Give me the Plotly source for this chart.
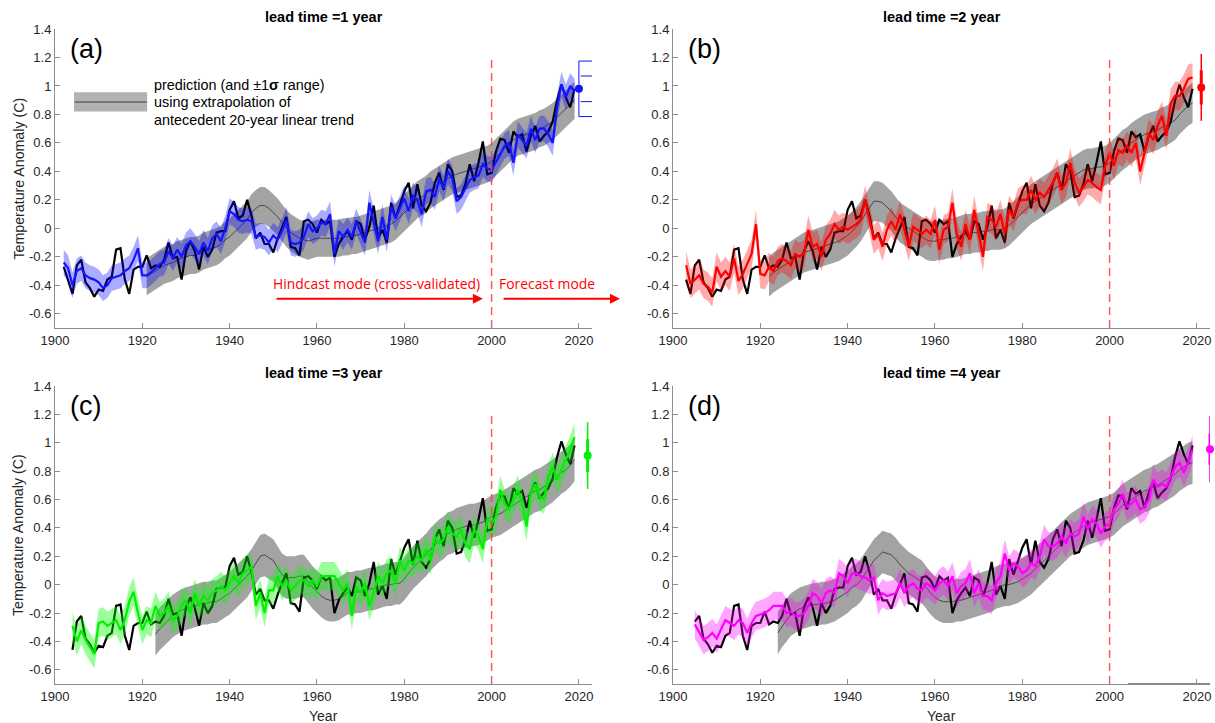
import plotly.graph_objects as go

# ---------------- data ----------------
obs_start = 1902
obs_vals = [
    -0.27, -0.36, -0.46, -0.26, -0.22, -0.38, -0.42, -0.48, -0.43, -0.44,
    -0.36, -0.34, -0.15, -0.14, -0.36, -0.46, -0.29, -0.27, -0.27, -0.19,
    -0.28, -0.26, -0.27, -0.22, -0.10, -0.21, -0.20, -0.36, -0.16, -0.09,
    -0.16, -0.29, -0.13, -0.20, -0.15, -0.03, -0.02, -0.02, 0.13, 0.19,
    0.07, 0.09, 0.20, 0.09, -0.07, -0.03, -0.11, -0.11, -0.17, -0.07,
    0.01, 0.08, -0.13, -0.14, -0.19, 0.05, 0.06, 0.03, -0.03, 0.06,
    0.03, 0.05, -0.20, -0.11, -0.06, -0.02, -0.08, 0.05, 0.03, -0.08,
    0.01, 0.16, -0.07, -0.01, -0.10, 0.18, 0.07, 0.16, 0.26, 0.32,
    0.14, 0.31, 0.16, 0.12, 0.18, 0.32, 0.39, 0.27, 0.45, 0.40,
    0.22, 0.23, 0.31, 0.45, 0.33, 0.46, 0.61, 0.38, 0.39, 0.54,
    0.63, 0.62, 0.53, 0.68, 0.64, 0.66, 0.54, 0.65, 0.72, 0.61,
    0.65, 0.68, 0.75, 0.90, 1.01, 0.92, 0.85, 0.98,
]

lead_times = [1, 2, 3, 4]
obs_first_year = [1902, 1903, 1904, 1905]

# model (coloured) predictions, start years 1902..1905
model_a = [
    -0.24, -0.28, -0.40, -0.30, -0.28, -0.33, -0.35, -0.36, -0.38, -0.42,
    -0.40, -0.35, -0.34, -0.33, -0.30, -0.28, -0.22, -0.14, -0.33, -0.33,
    -0.31, -0.28, -0.25, -0.24, -0.16, -0.21, -0.15, -0.20, -0.12, -0.09,
    -0.13, -0.18, -0.10, -0.16, -0.07, -0.04, -0.09, 0.00, 0.12, 0.10,
    0.06, 0.05, 0.06, 0.05, -0.06, -0.05, -0.06, -0.10, -0.05, -0.08,
    -0.02, 0.06, -0.10, -0.11, -0.10, -0.06, 0.03, -0.02, 0.00, 0.04,
    0.03, 0.10, -0.18, -0.02, -0.06, -0.01, -0.06, 0.05, -0.02, -0.10,
    0.18, 0.05, -0.09, 0.08, -0.08, 0.15, 0.07, 0.14, 0.21, 0.12,
    0.23, 0.20, 0.10, 0.26, 0.27, 0.22, 0.35, 0.28, 0.40, 0.35,
    0.19, 0.22, 0.28, 0.34, 0.36, 0.37, 0.45, 0.42, 0.41, 0.46,
    0.52, 0.58, 0.60, 0.46, 0.66, 0.62, 0.58, 0.70, 0.62, 0.70,
    0.70, 0.66, 0.60, 0.85, 1.01, 0.92, 1.00, 0.96,
]
model_b = [
    -0.26, -0.39, -0.36, -0.33, -0.39, -0.41, -0.45, -0.27, -0.34, -0.30,
    -0.34, -0.21, -0.37, -0.32, -0.25, -0.18, 0.03, -0.32, -0.33, -0.27,
    -0.30, -0.23, -0.21, -0.23, -0.26, -0.18, -0.20, -0.18, -0.01, -0.13,
    -0.11, -0.20, -0.08, -0.04, 0.03, -0.01, 0.01, -0.01, 0.01, 0.03,
    0.06, 0.20, 0.06, -0.08, -0.04, -0.13, -0.01, 0.05, -0.01, 0.10,
    -0.01, -0.13, 0.01, -0.01, -0.04, -0.01, -0.04, 0.06, -0.15, -0.01,
    0.01, 0.18, -0.04, -0.13, 0.03, -0.08, 0.13, -0.04, -0.20, 0.08,
    0.06, 0.01, 0.10, -0.04, 0.13, 0.08, 0.18, 0.20, 0.20, 0.27,
    0.20, 0.25, 0.22, 0.27, 0.32, 0.39, 0.27, 0.32, 0.46, 0.32,
    0.25, 0.29, 0.34, 0.32, 0.29, 0.27, 0.44, 0.53, 0.44, 0.55,
    0.53, 0.58, 0.53, 0.60, 0.40, 0.53, 0.67, 0.62, 0.72, 0.79,
    0.65, 0.88, 0.93, 0.93, 0.98, 1.05, 1.06,
]
model_c = [
    -0.29, -0.40, -0.32, -0.39, -0.44, -0.49, -0.27, -0.26, -0.29, -0.27,
    -0.25, -0.32, -0.25, -0.12, -0.05, -0.20, -0.32, -0.25, -0.27, -0.15,
    -0.22, -0.20, -0.15, -0.25, -0.22, -0.15, -0.11, -0.20, -0.06, -0.15,
    -0.08, -0.11, -0.06, -0.04, -0.01, -0.04, 0.01, 0.06, 0.01, 0.08,
    0.10, 0.13, -0.15, -0.06, -0.20, -0.04, -0.04, 0.06, -0.01, 0.03,
    -0.04, -0.01, 0.03, 0.03, -0.01, 0.03, -0.01, 0.06, 0.06, 0.06,
    0.06, 0.01, -0.04, 0.01, -0.22, -0.01, -0.06, 0.01, -0.15, -0.06,
    0.06, 0.01, 0.08, 0.10, 0.01, 0.17, 0.10, 0.17, 0.15, 0.20,
    0.17, 0.25, 0.17, 0.34, 0.29, 0.32, 0.41, 0.36, 0.34, 0.39,
    0.29, 0.25, 0.39, 0.34, 0.25, 0.46, 0.43, 0.48, 0.67, 0.57,
    0.53, 0.60, 0.67, 0.57, 0.41, 0.65, 0.71, 0.62, 0.60, 0.76,
    0.83, 0.74, 0.81, 0.88, 0.95, 1.04,
]
model_d = [
    -0.28, -0.34, -0.39, -0.37, -0.34, -0.38, -0.32, -0.25, -0.27, -0.29,
    -0.25, -0.27, -0.34, -0.27, -0.22, -0.21, -0.20, -0.18, -0.15, -0.15,
    -0.15, -0.20, -0.19, -0.22, -0.22, -0.20, -0.15, -0.06, -0.08, -0.13,
    -0.06, -0.04, -0.06, 0.08, 0.06, 0.01, 0.08, 0.08, 0.06, 0.05,
    0.03, 0.05, -0.11, -0.06, -0.08, -0.07, -0.06, 0.01, -0.06, -0.01,
    0.01, -0.03, -0.04, 0.01, -0.01, -0.04, 0.01, 0.03, -0.01, 0.06,
    -0.06, -0.01, 0.01, 0.08, -0.06, 0.01, -0.08, -0.08, -0.11, 0.01,
    0.06, 0.22, 0.10, 0.15, 0.13, 0.08, 0.10, 0.15, 0.13, 0.20,
    0.32, 0.27, 0.27, 0.29, 0.34, 0.29, 0.36, 0.34, 0.36, 0.48,
    0.39, 0.46, 0.43, 0.36, 0.41, 0.43, 0.53, 0.57, 0.64, 0.55,
    0.57, 0.60, 0.53, 0.55, 0.60, 0.74, 0.69, 0.71, 0.69, 0.76,
    0.83, 0.86, 0.79, 0.86, 0.95,
]
model_vals = [model_a, model_b, model_c, model_d]
model_sigma = [0.09, 0.10, 0.10, 0.10]

# trend-extrapolation prediction (grey), start years 1921..1924
trend_first_year = [1921, 1922, 1923, 1924]
trend_a = [
    -0.34, -0.32, -0.30, -0.28, -0.26, -0.25, -0.24, -0.22, -0.21, -0.20,
    -0.19, -0.19, -0.18, -0.16, -0.15, -0.14, -0.13, -0.11, -0.08, -0.06,
    -0.03, 0.00, 0.03, 0.06, 0.11, 0.14, 0.16, 0.16, 0.14, 0.11,
    0.08, 0.04, 0.00, -0.03, -0.05, -0.07, -0.08, -0.09, -0.08, -0.07,
    -0.07, -0.07, -0.07, -0.07, -0.07, -0.06, -0.06, -0.05, -0.05, -0.04,
    -0.03, -0.02, -0.01, 0.00, 0.01, 0.02, 0.03, 0.05, 0.08, 0.11,
    0.14, 0.17, 0.20, 0.22, 0.24, 0.27, 0.29, 0.31, 0.33, 0.35,
    0.37, 0.38, 0.39, 0.40, 0.41, 0.42, 0.43, 0.44, 0.45, 0.47,
    0.50, 0.53, 0.56, 0.59, 0.62, 0.64, 0.65, 0.66, 0.67, 0.68,
    0.70, 0.71, 0.73, 0.75, 0.78, 0.81, 0.84, 0.87, 0.90,
]
trend_b = [
    -0.34, -0.31, -0.29, -0.27, -0.25, -0.23, -0.21, -0.19, -0.17, -0.16,
    -0.15, -0.14, -0.13, -0.12, -0.11, -0.10, -0.09, -0.07, -0.05, -0.02,
    0.01, 0.05, 0.10, 0.15, 0.19, 0.19, 0.18, 0.15, 0.12, 0.08,
    0.04, 0.02, 0.00, -0.02, -0.04, -0.06, -0.08, -0.09, -0.09, -0.08,
    -0.08, -0.07, -0.07, -0.06, -0.05, -0.04, -0.04, -0.03, -0.03, -0.02,
    -0.02, -0.01, -0.01, -0.01, 0.00, 0.02, 0.05, 0.08, 0.11, 0.14,
    0.17, 0.19, 0.21, 0.23, 0.25, 0.27, 0.29, 0.31, 0.33, 0.35,
    0.37, 0.39, 0.41, 0.42, 0.42, 0.43, 0.43, 0.44, 0.46, 0.49,
    0.52, 0.55, 0.57, 0.60, 0.62, 0.64, 0.66, 0.67, 0.68, 0.69,
    0.71, 0.72, 0.74, 0.76, 0.80, 0.83, 0.86, 0.88,
]
trend_c = [
    -0.35, -0.31, -0.28, -0.25, -0.22, -0.20, -0.18, -0.17, -0.16, -0.15,
    -0.14, -0.13, -0.13, -0.12, -0.12, -0.10, -0.08, -0.06, -0.03, 0.00,
    0.03, 0.06, 0.10, 0.15, 0.20, 0.21, 0.19, 0.17, 0.12, 0.07,
    0.05, 0.05, 0.05, 0.06, 0.06, 0.02, -0.02, -0.05, -0.08, -0.10,
    -0.11, -0.11, -0.10, -0.08, -0.06, -0.06, -0.05, -0.05, -0.04, -0.03,
    -0.03, -0.02, -0.01, 0.00, 0.00, 0.01, 0.01, 0.04, 0.08, 0.12,
    0.15, 0.18, 0.21, 0.25, 0.28, 0.31, 0.33, 0.36, 0.37, 0.39,
    0.40, 0.41, 0.42, 0.42, 0.43, 0.44, 0.46, 0.48, 0.49, 0.50,
    0.52, 0.54, 0.56, 0.58, 0.60, 0.62, 0.64, 0.66, 0.67, 0.69,
    0.71, 0.73, 0.76, 0.79, 0.81, 0.84, 0.88,
]
trend_d = [
    -0.34, -0.29, -0.25, -0.21, -0.19, -0.17, -0.16, -0.15, -0.14, -0.14,
    -0.13, -0.13, -0.12, -0.11, -0.09, -0.07, -0.05, -0.02, 0.00, 0.03,
    0.08, 0.13, 0.17, 0.20, 0.23, 0.22, 0.21, 0.18, 0.14, 0.11,
    0.08, 0.06, 0.04, 0.02, -0.02, -0.06, -0.09, -0.11, -0.12, -0.12,
    -0.12, -0.11, -0.11, -0.10, -0.09, -0.08, -0.07, -0.06, -0.05, -0.04,
    -0.02, -0.01, 0.00, 0.00, 0.01, 0.02, 0.04, 0.06, 0.08, 0.11,
    0.14, 0.17, 0.20, 0.23, 0.26, 0.29, 0.32, 0.35, 0.37, 0.39,
    0.41, 0.43, 0.44, 0.45, 0.46, 0.47, 0.48, 0.50, 0.53, 0.56,
    0.58, 0.60, 0.62, 0.64, 0.66, 0.67, 0.69, 0.70, 0.72, 0.74,
    0.76, 0.78, 0.81, 0.83, 0.85, 0.86,
]
trend_vals = [trend_a, trend_b, trend_c, trend_d]
trend_sigma = [0.13, 0.14, 0.15, 0.15]

# forecast points with 1 and 2 sigma
fc_year = [2020, 2021, 2022, 2023]
fc_val = [0.98, 0.99, 0.91, 0.955]
fc_sig1 = [0.09, 0.12, 0.115, 0.11]
fc_sig2 = [0.195, 0.235, 0.235, 0.235]

panel_letters = ['(a)', '(b)', '(c)', '(d)']
panel_titles = ['lead time =1 year', 'lead time =2 year', 'lead time =3 year', 'lead time =4 year']
line_colors = ['rgb(20,20,255)', 'rgb(255,0,0)', 'rgb(0,240,0)', 'rgb(255,0,255)']
band_colors = ['rgba(0,0,255,0.33)', 'rgba(255,0,0,0.33)', 'rgba(0,255,0,0.40)', 'rgba(255,0,255,0.35)']

x_ticks = [1900, 1920, 1940, 1960, 1980, 2000, 2020]
y_ticks = [-0.6, -0.4, -0.2, 0, 0.2, 0.4, 0.6, 0.8, 1, 1.2, 1.4]
y_ticklabels = ['-0.6', '-0.4', '-0.2', '0', '0.2', '0.4', '0.6', '0.8', '1', '1.2', '1.4']
split_year = 2000

# ---------------- layout geometry ----------------
W, H = 1215, 723
x_doms = [(55 / W, 592 / W), (673 / W, 1210 / W)]
y_doms = [((H - 328) / H, (H - 29) / H), ((H - 684) / H, (H - 386) / H)]
FONT = 'Liberation Sans, Arial, Helvetica, sans-serif'
AXC = '#8c8c8c'

fig = go.Figure()
layout = dict(width=W, height=H, margin=dict(l=0, r=0, t=0, b=0, pad=0, autoexpand=False),
              paper_bgcolor='white', plot_bgcolor='white', showlegend=False,
              font=dict(family=FONT, color='#262626'))
annotations = []
shapes = []


def band(xs, center, sig):
    up = [c + sig for c in center]
    lo = [c - sig for c in center]
    return xs + xs[::-1], up + lo[::-1]


for i in range(4):
    n = '' if i == 0 else str(i + 1)
    xa, ya = 'x' + n, 'y' + n
    row, col = i // 2, i % 2
    layout['xaxis' + n] = dict(domain=list(x_doms[col]), range=[1900, 2023], anchor=ya,
                               tickvals=x_ticks, showline=True, linecolor=AXC, linewidth=1,
                               ticks='inside', ticklen=5, tickcolor=AXC, showgrid=False,
                               zeroline=False, automargin=False,
                               tickfont=dict(size=13, color='#262626'))
    layout['yaxis' + n] = dict(domain=list(y_doms[row]), range=[-0.7, 1.4], anchor=xa,
                               tickvals=y_ticks, ticktext=y_ticklabels, showline=True,
                               linecolor=AXC, linewidth=1, ticks='inside', ticklen=5,
                               tickcolor=AXC, showgrid=False, zeroline=False, automargin=False,
                               tickfont=dict(size=13, color='#262626'))

    # grey trend band + centre line
    ty = list(range(trend_first_year[i], trend_first_year[i] + len(trend_vals[i])))
    bx, by = band(ty, trend_vals[i], trend_sigma[i])
    fig.add_trace(go.Scatter(x=bx, y=by, fill='toself', fillcolor='rgb(163,163,163)',
                             line=dict(width=0), mode='lines', hoverinfo='skip', xaxis=xa, yaxis=ya))
    fig.add_trace(go.Scatter(x=ty, y=trend_vals[i], mode='lines',
                             line=dict(color='rgba(0,0,0,0.8)', width=0.7), xaxis=xa, yaxis=ya))

    # observed
    off = obs_first_year[i] - obs_start
    oy = list(range(obs_first_year[i], obs_start + len(obs_vals)))
    fig.add_trace(go.Scatter(x=oy, y=obs_vals[off:], mode='lines',
                             line=dict(color='black', width=2.2), xaxis=xa, yaxis=ya))

    # model band + line
    my = list(range(obs_first_year[i], obs_first_year[i] + len(model_vals[i])))
    bx, by = band(my, model_vals[i], model_sigma[i])
    fig.add_trace(go.Scatter(x=bx, y=by, fill='toself', fillcolor=band_colors[i],
                             line=dict(width=0), mode='lines', hoverinfo='skip', xaxis=xa, yaxis=ya))
    fig.add_trace(go.Scatter(x=my, y=model_vals[i], mode='lines',
                             line=dict(color=line_colors[i], width=2.2), xaxis=xa, yaxis=ya))

    # split line
    fig.add_trace(go.Scatter(x=[split_year, split_year], y=[-0.7, 1.2], mode='lines',
                             line=dict(color='rgba(255,60,60,0.85)', width=1.5, dash='8px,5px'),
                             xaxis=xa, yaxis=ya))

    # forecast point
    fx, fv, s1, s2 = fc_year[i], fc_val[i], fc_sig1[i], fc_sig2[i]
    if i == 0:
        fig.add_trace(go.Scatter(x=[fx, fx], y=[fv - s2, fv + s2], mode='lines',
                                 line=dict(color=line_colors[i], width=1), cliponaxis=False,
                                 xaxis=xa, yaxis=ya))
    else:
        fig.add_trace(go.Scatter(x=[fx, fx], y=[fv - s2, fv + s2], mode='lines',
                                 line=dict(color=line_colors[i], width=1.5), cliponaxis=False,
                                 xaxis=xa, yaxis=ya))
        fig.add_trace(go.Scatter(x=[fx, fx], y=[fv - s1, fv + s1], mode='lines',
                                 line=dict(color=line_colors[i], width=3), cliponaxis=False,
                                 xaxis=xa, yaxis=ya))
    fig.add_trace(go.Scatter(x=[fx], y=[fv], mode='markers', cliponaxis=False,
                             marker=dict(color=line_colors[i], size=8), xaxis=xa, yaxis=ya))

    # panel letter
    annotations.append(dict(x=1903, y=1.26, xref=xa, yref=ya, text=panel_letters[i],
                            showarrow=False, xanchor='left', yanchor='middle',
                            font=dict(size=27, color='black', family=FONT)))
    # title
    xc = (x_doms[col][0] + x_doms[col][1]) / 2
    ty_px = 17 if row == 0 else 373
    annotations.append(dict(x=xc, y=1 - ty_px / H, xref='paper', yref='paper',
                            text='<b>' + panel_titles[i] + '</b>', showarrow=False,
                            xanchor='center', yanchor='middle',
                            font=dict(size=14.5, color='black', family=FONT)))
    if col == 0:
        yc = (y_doms[row][0] + y_doms[row][1]) / 2
        annotations.append(dict(x=18 / W, y=yc, xref='paper', yref='paper',
                                text='Temperature Anomaly (C)', textangle=-90, showarrow=False,
                                xanchor='center', yanchor='middle',
                                font=dict(size=14.2, color='#262626', family=FONT)))
    if row == 1:
        annotations.append(dict(x=xc, y=1 - 716 / H, xref='paper', yref='paper', text='Year',
                                showarrow=False, xanchor='center', yanchor='middle',
                                font=dict(size=14, color='#262626', family=FONT)))

# ---- panel (a) extras: sigma brackets ----
fv, s1, s2 = fc_val[0], fc_sig1[0], fc_sig2[0]
bc = line_colors[0]
fig.add_trace(go.Scatter(x=[2020.4, 2024.3, 2024.3, 2020.4], y=[fv + s1, fv + s1, fv - s1, fv - s1],
                         mode='lines', line=dict(color=bc, width=1), cliponaxis=False))
fig.add_trace(go.Scatter(x=[2020, 2026.4, 2026.4, None, 2026.4, 2026.4, 2020],
                         y=[fv + s2, fv + s2, fv + s2 - 0.025, None, fv - s2 + 0.025, fv - s2, fv - s2],
                         mode='lines', line=dict(color=bc, width=1), cliponaxis=False))
annotations.append(dict(x=2025.3, y=fv, xref='x', yref='y', text='1σ', textangle=90,
                        showarrow=False, font=dict(size=6, color=bc, family=FONT)))
annotations.append(dict(x=2027.4, y=fv, xref='x', yref='y', text='2σ', textangle=90,
                        showarrow=False, font=dict(size=6, color=bc, family=FONT)))

# legend box for grey trend prediction
shapes.append(dict(type='rect', xref='x', yref='y', x0=1904.35, x1=1921.1, y0=0.82, y1=0.955,
                   fillcolor='rgb(178,178,178)', line=dict(width=0)))
shapes.append(dict(type='line', xref='x', yref='y', x0=1904.5, x1=1921.1, y0=0.887, y1=0.887,
                   line=dict(color='rgb(60,60,60)', width=1)))
legend_lines = ['prediction (and ±1<b>σ</b> range)', 'using extrapolation of',
                'antecedent 20-year linear trend']
legend_y = [1.004, 0.884, 0.764]
for t, yv in zip(legend_lines, legend_y):
    annotations.append(dict(x=1922.2, y=yv, xref='x', yref='y', text=t, showarrow=False,
                            xanchor='left', yanchor='middle',
                            font=dict(size=14.4, color='black', family=FONT)))

# hindcast / forecast arrows
RED = 'rgb(255,0,0)'
annotations.append(dict(x=1998.0, y=-0.494, ax=1950.4, ay=-0.494, xref='x', yref='y',
                        axref='x', ayref='y', text='', showarrow=True, arrowhead=2,
                        arrowsize=1, arrowwidth=2, arrowcolor=RED))
annotations.append(dict(x=2029.4, y=-0.494, ax=2002.4, ay=-0.494, xref='x', yref='y',
                        axref='x', ayref='y', text='', showarrow=True, arrowhead=2,
                        arrowsize=1, arrowwidth=2, arrowcolor=RED))
annotations.append(dict(x=1973.6, y=-0.39, xref='x', yref='y',
                        text='Hindcast mode (cross-validated)', showarrow=False,
                        font=dict(size=13.9, color=RED, family='Open Sans, sans-serif')))
annotations.append(dict(x=2012.8, y=-0.39, xref='x', yref='y', text='Forecast mode',
                        showarrow=False,
                        font=dict(size=13.9, color=RED, family='Open Sans, sans-serif')))

# small dark segment on the bottom axis of panel (d)
fig.add_trace(go.Scatter(x=[2004.2, 2023], y=[-0.7, -0.7], mode='lines', cliponaxis=False,
                         line=dict(color='rgb(90,90,90)', width=1.5), xaxis='x4', yaxis='y4'))

layout['annotations'] = annotations
layout['shapes'] = shapes
fig.update_layout(**layout)
fig.write_html('out.html',
               post_script="document.body.style.margin='0px';document.body.style.overflow='hidden';")
